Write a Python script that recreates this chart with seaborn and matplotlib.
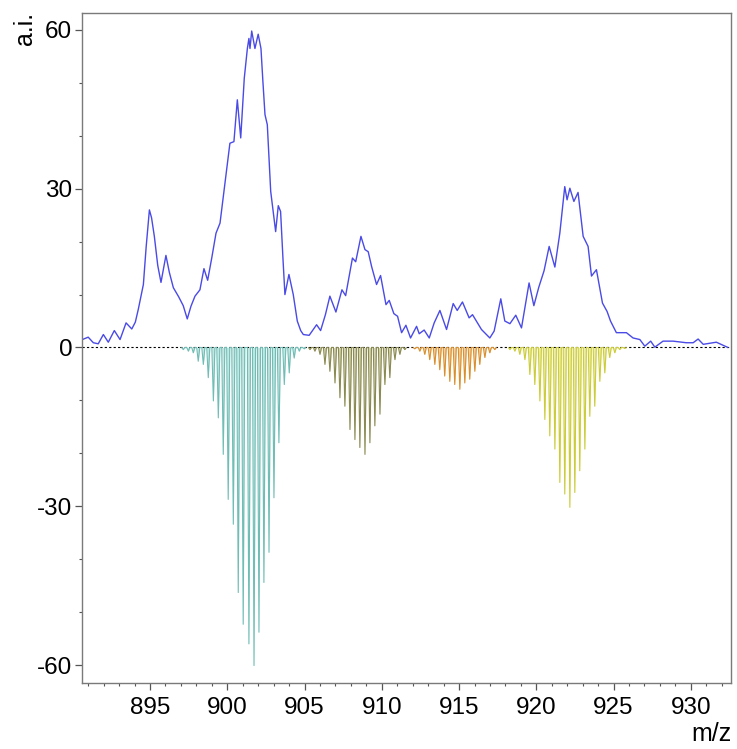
import numpy as np
import pandas as pd
import matplotlib
matplotlib.use("Agg")
import matplotlib.pyplot as plt
import seaborn as sns
from matplotlib.ticker import MultipleLocator

# ---------------- data ----------------
# experimental spectrum (blue trace)
exp_mz = [890.62, 891.00, 891.33, 891.65, 891.98, 892.30, 892.69, 893.06, 893.45, 893.82,
          894.05, 894.24, 894.42, 894.57, 894.75, 894.96, 895.10, 895.28, 895.50, 895.71,
          895.85, 896.03, 896.25, 896.51, 896.85, 897.15, 897.41, 897.65, 897.91,
          898.23, 898.49, 898.73, 899.00, 899.27, 899.53, 899.85, 900.17, 900.43, 900.65,
          900.87, 901.10, 901.30, 901.40, 901.47, 901.58, 901.79, 902.00, 902.18, 902.30,
          902.44, 902.59, 902.81, 903.13, 903.30, 903.45, 903.60, 903.73, 903.99, 904.27,
          904.53, 904.75, 904.92, 905.30, 905.78, 906.04, 906.35, 906.64, 907.03, 907.42,
          907.66, 908.10, 908.31, 908.65, 908.91, 909.12, 909.34, 909.66, 909.92, 910.27,
          910.48, 910.78, 911.02, 911.28, 911.56, 911.86, 912.25, 912.42, 912.74, 913.07,
          913.39, 913.76, 914.19, 914.62, 914.88, 915.22, 915.65, 915.87, 916.45, 916.99,
          917.27, 917.70, 917.96, 918.29, 918.67, 919.04, 919.53, 919.84, 920.16, 920.50,
          920.83, 921.20, 921.52, 921.70, 921.84, 921.99, 922.17, 922.43, 922.70, 923.03,
          923.35, 923.57, 923.89, 924.28, 924.58, 924.80, 925.18, 925.83, 926.26, 926.70,
          927.02, 927.40, 927.67, 928.20, 928.85, 929.70, 930.15, 930.47, 930.80, 931.65,
          932.40]
exp_int = [1.5, 1.95, 0.9, 0.7, 2.45, 1.0, 3.2, 1.5, 4.65, 3.5,
           4.8, 7.2, 9.8, 11.9, 19.0, 26.0, 24.5, 21.0, 15.5, 12.3,
           14.5, 17.4, 14.2, 11.3, 9.6, 7.9, 5.4, 7.8, 9.7,
           10.9, 14.9, 12.7, 17.0, 21.6, 23.5, 31.0, 38.6, 38.9, 46.8,
           39.6, 50.9, 56.5, 58.4, 56.5, 59.8, 56.5, 59.2, 56.5, 50.5,
           44.0, 42.1, 29.5, 21.9, 26.8, 25.7, 17.0, 10.0, 13.8, 10.0,
           5.0, 3.2, 2.45, 2.3, 4.3, 3.2, 6.2, 9.7, 6.7, 10.9,
           9.8, 16.9, 16.2, 21.0, 18.5, 18.1, 15.3, 11.9, 13.6, 8.1,
           8.9, 6.4, 5.9, 2.8, 4.2, 1.8, 4.0, 2.6, 3.3, 1.8,
           4.65, 7.0, 3.4, 8.3, 7.0, 8.6, 5.6, 6.2, 3.4, 1.8,
           3.1, 9.2, 5.0, 4.5, 6.1, 3.7, 12.2, 7.9, 11.4, 14.5,
           19.1, 15.2, 21.6, 26.5, 30.4, 27.9, 30.1, 27.6, 29.3, 21.0,
           19.1, 13.5, 14.7, 8.4, 6.8, 5.0, 2.8, 2.8, 1.8, 1.5,
           0.25, 1.2, 0.06, 1.2, 1.2, 0.9, 0.9, 1.6, 0.6, 1.0,
           0.0]

# simulated isotope patterns (drawn downward)
teal_mz = [897.15, 897.48, 897.80, 898.12, 898.45, 898.77, 899.10, 899.42, 899.74, 900.06,
           900.39, 900.71, 901.03, 901.40, 901.73, 902.05, 902.37, 902.70, 903.02, 903.34,
           903.69, 904.01, 904.33, 904.66, 904.98]
teal_int = [0.4, 0.7, 1.0, 2.6, 3.2, 5.7, 10.1, 13.3, 20.2, 28.7,
            33.4, 46.3, 52.3, 56.0, 60.1, 53.8, 44.4, 38.7, 28.4, 18.0,
            7.0, 4.8, 2.0, 0.7, 0.25]

olive_mz = [905.35, 905.67, 906.00, 906.32, 906.64, 906.97, 907.29, 907.61, 907.94, 908.26,
            908.58, 908.91, 909.23, 909.55, 909.88, 910.20, 910.52, 910.85, 911.17, 911.49]
olive_int = [0.4, 0.7, 1.3, 3.2, 4.5, 6.7, 9.5, 11.1, 15.5, 17.4,
             18.9, 20.2, 18.0, 14.8, 12.6, 7.0, 5.7, 2.3, 1.3, 0.4]

orange_mz = [912.13, 912.46, 912.78, 913.10, 913.43, 913.75, 914.07, 914.40, 914.72, 915.05,
             915.37, 915.69, 916.02, 916.34, 916.67, 916.99, 917.31]
orange_int = [0.25, 0.7, 1.3, 2.3, 3.2, 4.2, 5.4, 6.4, 7.0, 7.9,
              6.7, 6.0, 4.5, 3.2, 1.9, 1.0, 0.4]

yellow_mz = [918.29, 918.61, 918.93, 919.26, 919.58, 919.90, 920.23, 920.55, 920.87, 921.20,
             921.52, 921.84, 922.17, 922.49, 922.81, 923.14, 923.46, 923.78, 924.11, 924.43,
             924.75, 925.08, 925.40, 925.72]
yellow_int = [0.4, 0.7, 1.3, 2.3, 5.1, 7.0, 10.1, 13.6, 16.7, 19.2,
              25.5, 27.7, 30.2, 27.4, 23.3, 19.2, 13.0, 11.1, 6.4, 4.8,
              1.9, 1.0, 0.4, 0.2]

x_ticks = [895, 900, 905, 910, 915, 920, 925, 930]
y_ticks = [-60, -30, 0, 30, 60]

# ---------------- plotting ----------------
sns.set_theme(style="white")
plt.rcParams['font.family'] = ['Liberation Sans', 'DejaVu Sans']
plt.rcParams['axes.unicode_minus'] = False

fig = plt.figure(figsize=(7.37, 7.49), dpi=100)
ax = fig.add_axes([0.1113, 0.0881, 0.8806, 0.8945])

exp_df = pd.DataFrame({"mz": exp_mz, "int": exp_int})
sns.lineplot(data=exp_df, x="mz", y="int", ax=ax, color="#4a4ae6", lw=1.0,
             sort=False, estimator=None)

ax.axhline(0, color="black", lw=0.8, ls=(0, (2, 2)), zorder=1)


def stick_profile(mz, inten, half_width=0.1):
    xs, ys = [], []
    for c, h in zip(mz, inten):
        xs += [c - half_width, c, c + half_width]
        ys += [0.0, -h, 0.0]
    return pd.DataFrame({"mz": xs, "int": ys})


groups = [
    (teal_mz, teal_int, "#6fbdb5", "#c4e6e2"),
    (olive_mz, olive_int, "#8a8a52", "#d2d2b0"),
    (orange_mz, orange_int, "#d98f2e", "#f1d0a0"),
    (yellow_mz, yellow_int, "#cccc3a", "#ededa8"),
]
for mz, inten, col, fill in groups:
    prof = stick_profile(mz, inten)
    ax.fill_between(prof["mz"], prof["int"], 0, color=fill, lw=0, zorder=2)
    sns.lineplot(data=prof, x="mz", y="int", ax=ax, color=col, lw=0.8,
                 sort=False, estimator=None, zorder=3)

ax.set_xlim(890.6, 932.6)
ax.set_ylim(-63.4, 63.2)
ax.set_xticks(x_ticks)
ax.set_yticks(y_ticks)
ax.xaxis.set_minor_locator(MultipleLocator(1))
ax.yaxis.set_minor_locator(MultipleLocator(10))
ax.tick_params(axis="both", which="major", direction="out", length=5, width=0.9,
               color="#555555", labelsize=17.5, labelcolor="black", pad=2,
               bottom=True, left=True)
ax.tick_params(axis="x", which="major", pad=5)
ax.tick_params(axis="both", which="minor", direction="out", length=2.5, width=0.8,
               color="#555555", bottom=True, left=True)
ax.set_xlabel("")
ax.set_ylabel("")
for s in ax.spines.values():
    s.set_color("#7a7a7a")
    s.set_linewidth(1.0)

fig.text(0.034, 0.962, "a.i.", rotation=90, fontsize=18, ha="center", va="center",
         color="black")
fig.text(0.992, 0.004, "m/z", fontsize=18, ha="right", va="bottom", color="black")

fig.savefig("out.png", dpi=100)
